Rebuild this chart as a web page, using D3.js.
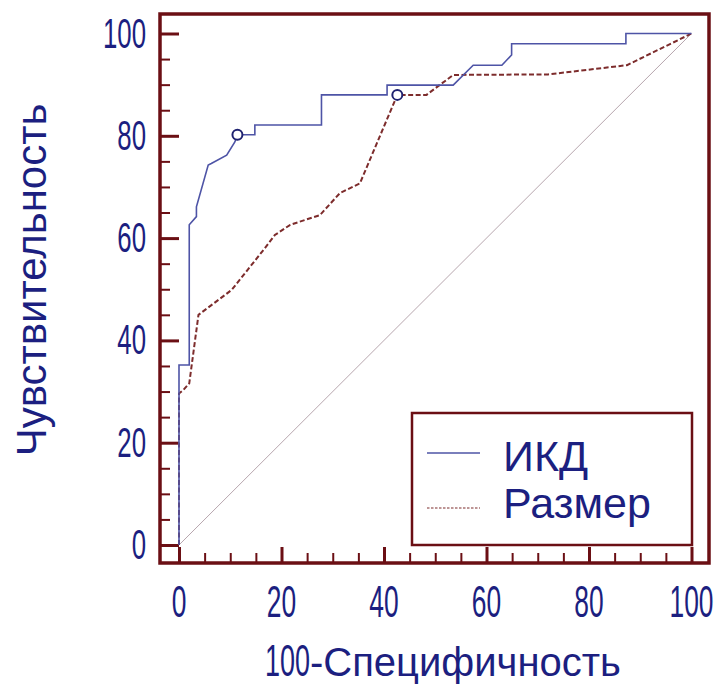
<!DOCTYPE html>
<html><head><meta charset="utf-8">
<script src="https://cdn.jsdelivr.net/npm/d3@7"></script>
<style>body{margin:0;background:#fff}svg{display:block}</style>
</head><body><svg id="c" width="716" height="686"></svg>
<script>
// ---- data (100-Specificity, Sensitivity) ----
const ikdX = [0, 0, 2.0, 2.0, 3.4, 3.4, 5.7, 6.3, 9.3, 10.9, 11.4, 14.8, 14.8, 27.8, 27.8, 40.6, 40.6, 53.5, 57.4, 63.0, 64.9, 64.9, 87.2, 87.2, 100];
const ikdY = [0, 35.2, 35.2, 62.6, 64.2, 66.1, 74.3, 74.6, 76.2, 78.8, 80.2, 80.2, 82.1, 82.1, 88.0, 88.0, 89.9, 89.9, 93.8, 93.8, 95.8, 98.0, 98.0, 100, 100];
const razX = [0, 0, 0.85, 2.0, 3.8, 9.0, 10.3, 16.5, 18.7, 21.7, 27.5, 31.4, 35.3, 42.6, 48.3, 53.5, 72.0, 87.4, 100];
const razY = [0, 29.6, 30.3, 31.6, 45.0, 48.9, 49.9, 57.7, 60.6, 62.6, 64.5, 68.8, 70.7, 88.0, 88.0, 91.9, 92.0, 93.8, 100];
const cutPoints = [[11.4, 80.2], [42.6, 88.0]];
const tickValues = [0, 20, 40, 60, 80, 100];
const seriesNames = ["ИКД", "Размер"];
const xTitleNum = "100", xTitleText = "-Специфичность";
const yTitle = "Чувствительность";

// ---- styles ----
const maroon = "#6b0f14", navy = "#1c1f80", blue = "#4e54a6", dashCol = "#7d2c2c";
const frame = {l: 160, t: 14, r: 709, b: 563};

const svg = d3.select("#c");
const x = d3.scaleLinear().domain([0, 100]).range([179, 691.5]);
const y = d3.scaleLinear().domain([0, 100]).range([545, 33.5]);
const minorTicks = d3.range(0, 101, 5).filter(v => v % 20 !== 0);

// diagonal reference
svg.append("line")
  .attr("x1", x(0)).attr("y1", y(0)).attr("x2", x(100)).attr("y2", y(100))
  .attr("stroke", "#b7a6ae").attr("stroke-width", 1);

// axes (ticks inside frame)
function styleAxis(g, w) {
  g.select(".domain").remove();
  g.selectAll(".tick line").attr("stroke", maroon).attr("stroke-width", w);
  g.selectAll(".tick text").remove();
}
svg.append("g").attr("transform", `translate(${frame.l},0)`)
  .call(d3.axisRight(y).tickValues(minorTicks).tickSize(10))
  .call(g => styleAxis(g, 2));
svg.append("g").attr("transform", `translate(${frame.l},0)`)
  .call(d3.axisRight(y).tickValues(tickValues).tickSize(19))
  .call(g => styleAxis(g, 3));
svg.append("g").attr("transform", `translate(0,${frame.b})`)
  .call(d3.axisTop(x).tickValues(minorTicks).tickSize(10))
  .call(g => styleAxis(g, 2));
svg.append("g").attr("transform", `translate(0,${frame.b})`)
  .call(d3.axisTop(x).tickValues(tickValues).tickSize(16))
  .call(g => styleAxis(g, 3));

// frame
svg.append("rect")
  .attr("x", frame.l).attr("y", frame.t)
  .attr("width", frame.r - frame.l).attr("height", frame.b - frame.t)
  .attr("fill", "none").attr("stroke", maroon).attr("stroke-width", 3.5);

// curves
const line = d3.line().x(d => x(d[0])).y(d => y(d[1]));
const razPts = razX.map((v, i) => [v, razY[i]]);
const ikdPts = ikdX.map((v, i) => [v, ikdY[i]]);
svg.append("path").datum(razPts).attr("d", line)
  .attr("fill", "none").attr("stroke", dashCol).attr("stroke-width", 2)
  .attr("stroke-dasharray", "5,2.5");
svg.append("path").datum(ikdPts).attr("d", line)
  .attr("fill", "none").attr("stroke", blue).attr("stroke-width", 1.6);

// cut-off markers
svg.selectAll("circle.cut").data(cutPoints).join("circle")
  .attr("cx", d => x(d[0])).attr("cy", d => y(d[1])).attr("r", 5)
  .attr("fill", "#fff").attr("stroke", "#1f2270").attr("stroke-width", 2);

// tick labels (narrow font)
const digitFont = "'Liberation Sans', Arial, sans-serif";
tickValues.forEach(v => {
  svg.append("g").attr("transform", `translate(146,${y(v) + 14}) scale(0.6,1)`)
    .append("text").attr("text-anchor", "end")
    .attr("font-family", digitFont).attr("font-size", 43).attr("fill", navy).text(v);
  svg.append("g").attr("transform", `translate(${x(v)},617) scale(0.6,1)`)
    .append("text").attr("text-anchor", "middle")
    .attr("font-family", digitFont).attr("font-size", 44).attr("fill", navy).text(v);
});

// axis titles
svg.append("g").attr("transform", `translate(310,676) scale(0.6,1)`)
  .append("text").attr("text-anchor", "end")
  .attr("font-family", digitFont).attr("font-size", 45).attr("fill", navy).text(xTitleNum);
svg.append("text").attr("x", 310).attr("y", 676)
  .attr("font-family", "'Liberation Sans', Arial, sans-serif").attr("font-size", 40)
  .attr("fill", navy).text(xTitleText);
svg.append("text").attr("transform", "translate(46,280) rotate(-90)")
  .attr("text-anchor", "middle")
  .attr("font-family", "'Liberation Sans', Arial, sans-serif").attr("font-size", 42)
  .attr("fill", navy).text(yTitle);

// legend
const lg = svg.append("g");
lg.append("rect").attr("x", 412).attr("y", 413).attr("width", 280).attr("height", 132)
  .attr("fill", "#fff").attr("stroke", maroon).attr("stroke-width", 2.5);
const legendItems = [
  {name: seriesNames[0], color: blue, dash: null, w: 1.4, ly: 453, ty: 471},
  {name: seriesNames[1], color: dashCol, dash: "2.5,1.5", w: 1.2, ly: 508, ty: 518}
];
legendItems.forEach(it => {
  lg.append("line").attr("x1", 427).attr("x2", 480).attr("y1", it.ly).attr("y2", it.ly)
    .attr("stroke", it.color).attr("stroke-width", it.w)
    .attr("stroke-dasharray", it.dash);
  lg.append("text").attr("x", 503).attr("y", it.ty)
    .attr("font-family", "'Liberation Sans', Arial, sans-serif").attr("font-size", 43)
    .attr("fill", navy).text(it.name);
});
</script>
</body></html>
